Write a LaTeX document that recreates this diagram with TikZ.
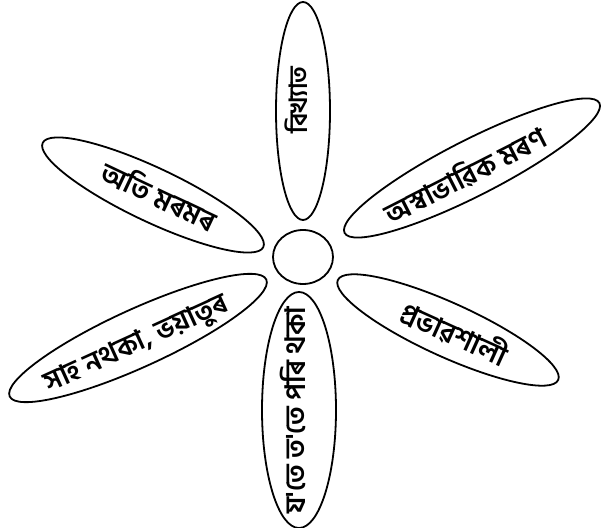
\documentclass[tikz,border=0pt]{standalone}
\usepackage{fontspec}
\newfontfamily\asfont[Script=Bengali]{Hind Siliguri SemiBold}
\usetikzlibrary{shapes.geometric}

\begin{document}
\begin{tikzpicture}[x=1pt, y=1pt,
   petal/.style={draw, ellipse, line width=1.8pt, inner sep=0pt},
   word/.style={font=\asfont\fontsize{28}{32}\selectfont, inner sep=0pt}]

  \useasboundingbox (0,0) rectangle (607,527);

  % centre
  \node[petal, minimum width=60pt, minimum height=54pt] (hub) at (303,270) {};

  % petals
  \node[petal, minimum width=218pt, minimum height=54pt, rotate=90]  (top)  at (303,416) {};
  \node[petal, minimum width=236pt, minimum height=74pt, rotate=90]  (bot)  at (299,117) {};
  \node[petal, minimum width=244pt, minimum height=54pt, rotate=-25.3] (ul) at (153,332) {};
  \node[petal, minimum width=286pt, minimum height=56pt, rotate=27]  (ur)   at (472,359) {};
  \node[petal, minimum width=282pt, minimum height=58pt, rotate=24.5] (ll)  at (138,189) {};
  \node[petal, minimum width=242pt, minimum height=54pt, rotate=-24.4] (lr) at (448,197) {};

  % labels
  \node[word, rotate=90, font=\asfont\fontsize{25}{29}\selectfont] (topw) at (296,427) {বিখ্যাত};
  \node[word, rotate=90]    (botw) at (293,117) {য'তে ত'তে পৰি থকা};
  \node[word, rotate=-25.3] (ulw)  at (160,332) {অতি মৰমৰ};
  \node[word, rotate=27]    (urw)  at (465,352) {অস্বাভাৱিক মৰণ};
  \node[word, rotate=24.5]  (llw)  at (137,182) {সাহ নথকা, ভয়াতুৰ};
  \node[word, rotate=-24.4] (lrw)  at (455,194) {প্ৰভাৱশালী};
\end{tikzpicture}
\end{document}
